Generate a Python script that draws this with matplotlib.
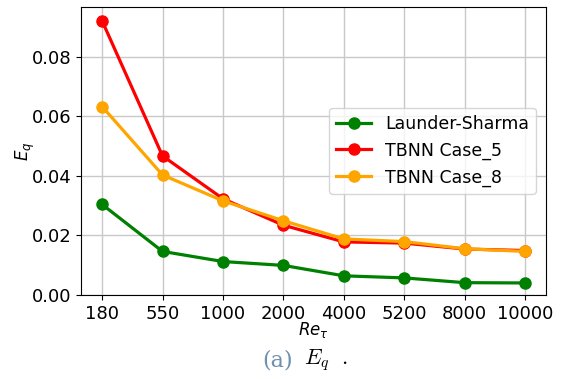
import matplotlib
matplotlib.use("Agg")
import matplotlib.pyplot as plt

re_tau = ["180", "550", "1000", "2000", "4000", "5200", "8000", "10000"]
launder_sharma = [0.0304, 0.0146, 0.0112, 0.0099, 0.0064, 0.0057, 0.0041, 0.0040]
tbnn_case5 = [0.0921, 0.0467, 0.0323, 0.0234, 0.0178, 0.0174, 0.0154, 0.0149]
tbnn_case8 = [0.0633, 0.0403, 0.0316, 0.0249, 0.0188, 0.0179, 0.0155, 0.0146]

fig = plt.figure(figsize=(5.62, 3.79), dpi=100)
ax = fig.add_axes([0.144, 0.222, 0.828, 0.760])
x = range(len(re_tau))
ax.plot(x, launder_sharma, "-o", color="green", lw=2.3, ms=8, label="Launder-Sharma")
ax.plot(x, tbnn_case5, "-o", color="red", lw=2.3, ms=8, label="TBNN Case_5")
ax.plot(x, tbnn_case8, "-o", color="orange", lw=2.3, ms=8, label="TBNN Case_8")

ax.set_xticks(list(x))
ax.set_xticklabels(re_tau)
ax.set_xlim(-0.35, 7.35)
ax.set_ylim(0, 0.0968)
ax.set_yticks([0, 0.02, 0.04, 0.06, 0.08])
ax.set_yticklabels(["0.00", "0.02", "0.04", "0.06", "0.08"])
ax.tick_params(labelsize=13)
ax.grid(True, color="#c8c8c8", lw=1)
ax.set_axisbelow(True)
ax.set_ylabel(r"$E_q$", fontsize=12, labelpad=-4)
ax.set_xlabel(r"$Re_\tau$", fontsize=12, labelpad=-2)
ax.legend(loc="center right", fontsize=12.5, borderaxespad=0.6)

# caption below the axes
fig.text(0.521, 0.05, "(a)", color="#7090b0", fontsize=16, family="serif",
         ha="right", va="center", math_fontfamily="cm")
fig.text(0.541, 0.05, r"$E_q\ \ .$", fontsize=16, ha="left", va="center",
         math_fontfamily="cm")

fig.savefig("out.png", dpi=100)
